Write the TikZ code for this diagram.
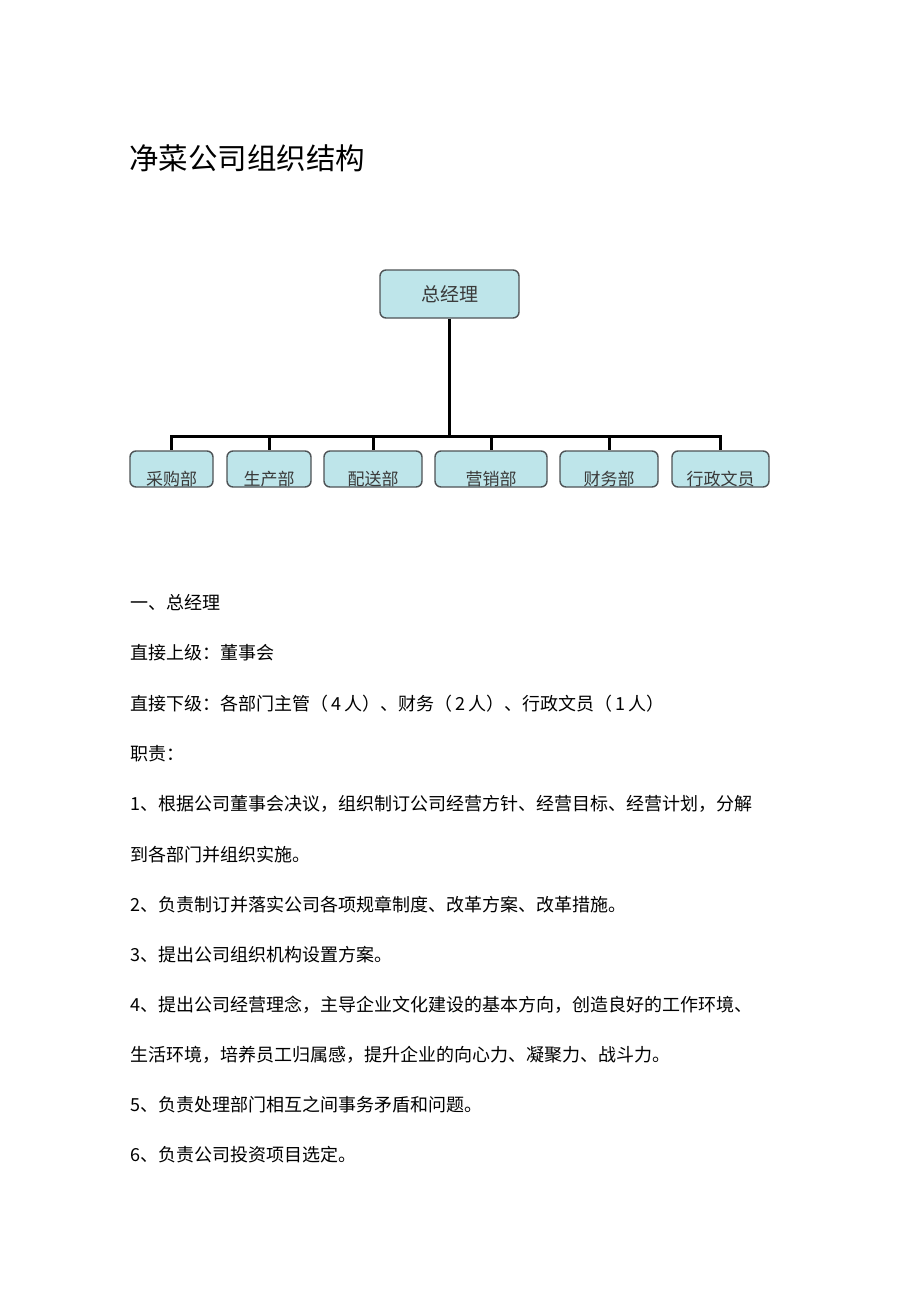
\documentclass[tikz,border=0pt]{standalone}
\usepackage{fontspec}
\newfontfamily\cjk{Noto Sans CJK SC}
\XeTeXlinebreaklocale "zh"
\XeTeXlinebreakskip=0pt plus 4pt
\definecolor{boxfill}{HTML}{BEE5EA}
\definecolor{boxdraw}{HTML}{4E5356}
\definecolor{labelgray}{HTML}{3A3A3A}
\begin{document}
\begin{tikzpicture}[x=1pt,y=-1pt,
  orgbox/.style={draw=boxdraw, line width=1.4pt, fill=boxfill, rounded corners=6pt, inner sep=0pt},
  conn/.style={line width=3pt, black},
  boxlabel/.style={font=\cjk\fontsize{17}{17}\selectfont, text=labelgray, inner sep=0pt},
  body/.style={anchor=west, inner sep=0pt, font=\cjk\fontsize{18}{18}\selectfont, text=black},
  titletext/.style={anchor=west, inner sep=0pt, font=\cjk\fontsize{29.5}{30}\selectfont, text=black}]
\fill[white] (0,0) rectangle (920,1303);
\useasboundingbox (0,0) rectangle (920,1303);

% title
\node[titletext] (title) at (129,158) {净菜公司组织结构};

% org chart
\node[orgbox, minimum width=139pt, minimum height=48pt,
      font=\cjk\fontsize{19}{19}\selectfont, text=labelgray] (gm) at (449.5,294) {总经理};

\node[orgbox, minimum width=83pt,  minimum height=36pt] (b1) at (171.5,469) {};
\node[orgbox, minimum width=84pt,  minimum height=36pt] (b2) at (269,469) {};
\node[orgbox, minimum width=98pt,  minimum height=36pt] (b3) at (373,469) {};
\node[orgbox, minimum width=112pt, minimum height=36pt] (b4) at (491,469) {};
\node[orgbox, minimum width=98pt,  minimum height=36pt] (b5) at (609,469) {};
\node[orgbox, minimum width=97pt,  minimum height=36pt] (b6) at (720.5,469) {};

\node[boxlabel] (l1) at (171.5,479) {采购部};
\node[boxlabel] (l2) at (269,479) {生产部};
\node[boxlabel] (l3) at (373,479) {配送部};
\node[boxlabel] (l4) at (491,479) {营销部};
\node[boxlabel] (l5) at (609,479) {财务部};
\node[boxlabel] (l6) at (720.5,479) {行政文员};

\coordinate (bus) at (449.5,436);
\draw[conn] (gm.south) -- (bus);
\foreach \n in {b1,b2,b3,b4,b5,b6}
  \draw[conn] (bus) -| (\n.north);

% body text
\node[body] (t1)  at (130,603)  {一、总经理};
\node[body] (t2)  at (130,653)  {直接上级：董事会};
\node[body] (t3)  at (130,704)  {\makebox[533pt][s]{直接下级：各部门主管（\,4\,人）、财务（\,2\,人）、行政文员（\,1\,人）}};
\node[body] (t4)  at (130,754)  {职责：};
\node[body] (t5)  at (130,804)  {\makebox[630pt][s]{1、根据公司董事会决议，组织制订公司经营方针、经营目标、经营计划，分解}};
\node[body] (t6)  at (130,855)  {到各部门并组织实施。};
\node[body] (t7)  at (130,905)  {2、负责制订并落实公司各项规章制度、改革方案、改革措施。};
\node[body] (t8)  at (130,955)  {3、提出公司组织机构设置方案。};
\node[body] (t9)  at (130,1005) {\makebox[630pt][s]{4、提出公司经营理念，主导企业文化建设的基本方向，创造良好的工作环境、}};
\node[body] (t10) at (130,1055) {生活环境，培养员工归属感，提升企业的向心力、凝聚力、战斗力。};
\node[body] (t11) at (130,1105) {5、负责处理部门相互之间事务矛盾和问题。};
\node[body] (t12) at (130,1155) {6、负责公司投资项目选定。};
\end{tikzpicture}
\end{document}
